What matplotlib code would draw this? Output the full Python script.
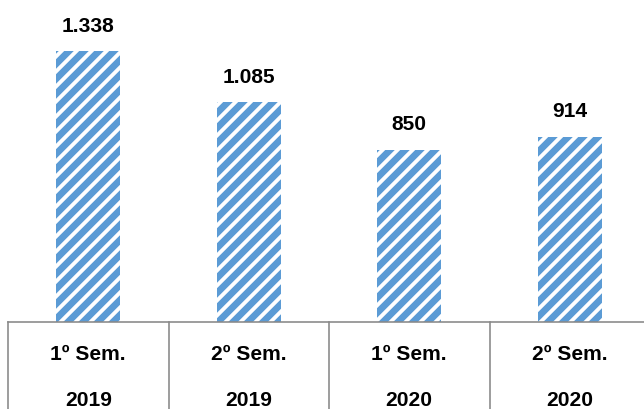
import matplotlib
matplotlib.use("Agg")
import matplotlib.pyplot as plt
from matplotlib.lines import Line2D

categories_sem = ["1º Sem.", "2º Sem.", "1º Sem.", "2º Sem."]
categories_year = ["2019", "2019", "2020", "2020"]
values = [1338, 1085, 850, 914]
value_labels = ["1.338", "1.085", "850", "914"]

DPI = 90
W, H = 644, 409
plt.rcParams['hatch.linewidth'] = 5.4
plt.rcParams['hatch.color'] = '#5B9BD5'
plt.rcParams['font.family'] = ['Liberation Sans', 'DejaVu Sans']

fig = plt.figure(figsize=(W / DPI, H / DPI), dpi=DPI)
fig.patch.set_facecolor('white')
ax = fig.add_axes([8 / W, 87 / H, 642 / W, 322 / H])

x = list(range(len(values)))
ax.bar(x, values, width=0.4, color='white', edgecolor='#5B9BD5',
       hatch='//', linewidth=0)

ax.set_xlim(-0.5, len(values) - 0.5)
ax.set_ylim(0, 1338 * 322 / 271)

fs = 16.8
for xi, v, lab in zip(x, values, value_labels):
    ax.annotate(lab, (xi, v), xytext=(0, 25 * 72 / DPI), textcoords='offset points',
                ha='center', va='center', fontsize=fs, fontweight='bold', color='black')

trans = ax.get_xaxis_transform()
for xi, s, yr in zip(x, categories_sem, categories_year):
    ax.text(xi, -32 / 322, s, transform=trans, ha='center', va='center',
            fontsize=fs, fontweight='bold', clip_on=False)
    ax.text(xi, -78 / 322, yr, transform=trans, ha='center', va='center',
            fontsize=fs, fontweight='bold', clip_on=False)

for b in range(len(values) + 1):
    ax.add_line(Line2D([b - 0.5, b - 0.5], [0, -0.4], transform=trans,
                       color='#898989', linewidth=1.3, clip_on=False))

for sp in ['top', 'right', 'left']:
    ax.spines[sp].set_visible(False)
ax.spines['bottom'].set_color('#898989')
ax.spines['bottom'].set_linewidth(1.3)
ax.set_xticks([])
ax.set_yticks([])

fig.savefig('out.png', dpi=DPI, facecolor='white')
